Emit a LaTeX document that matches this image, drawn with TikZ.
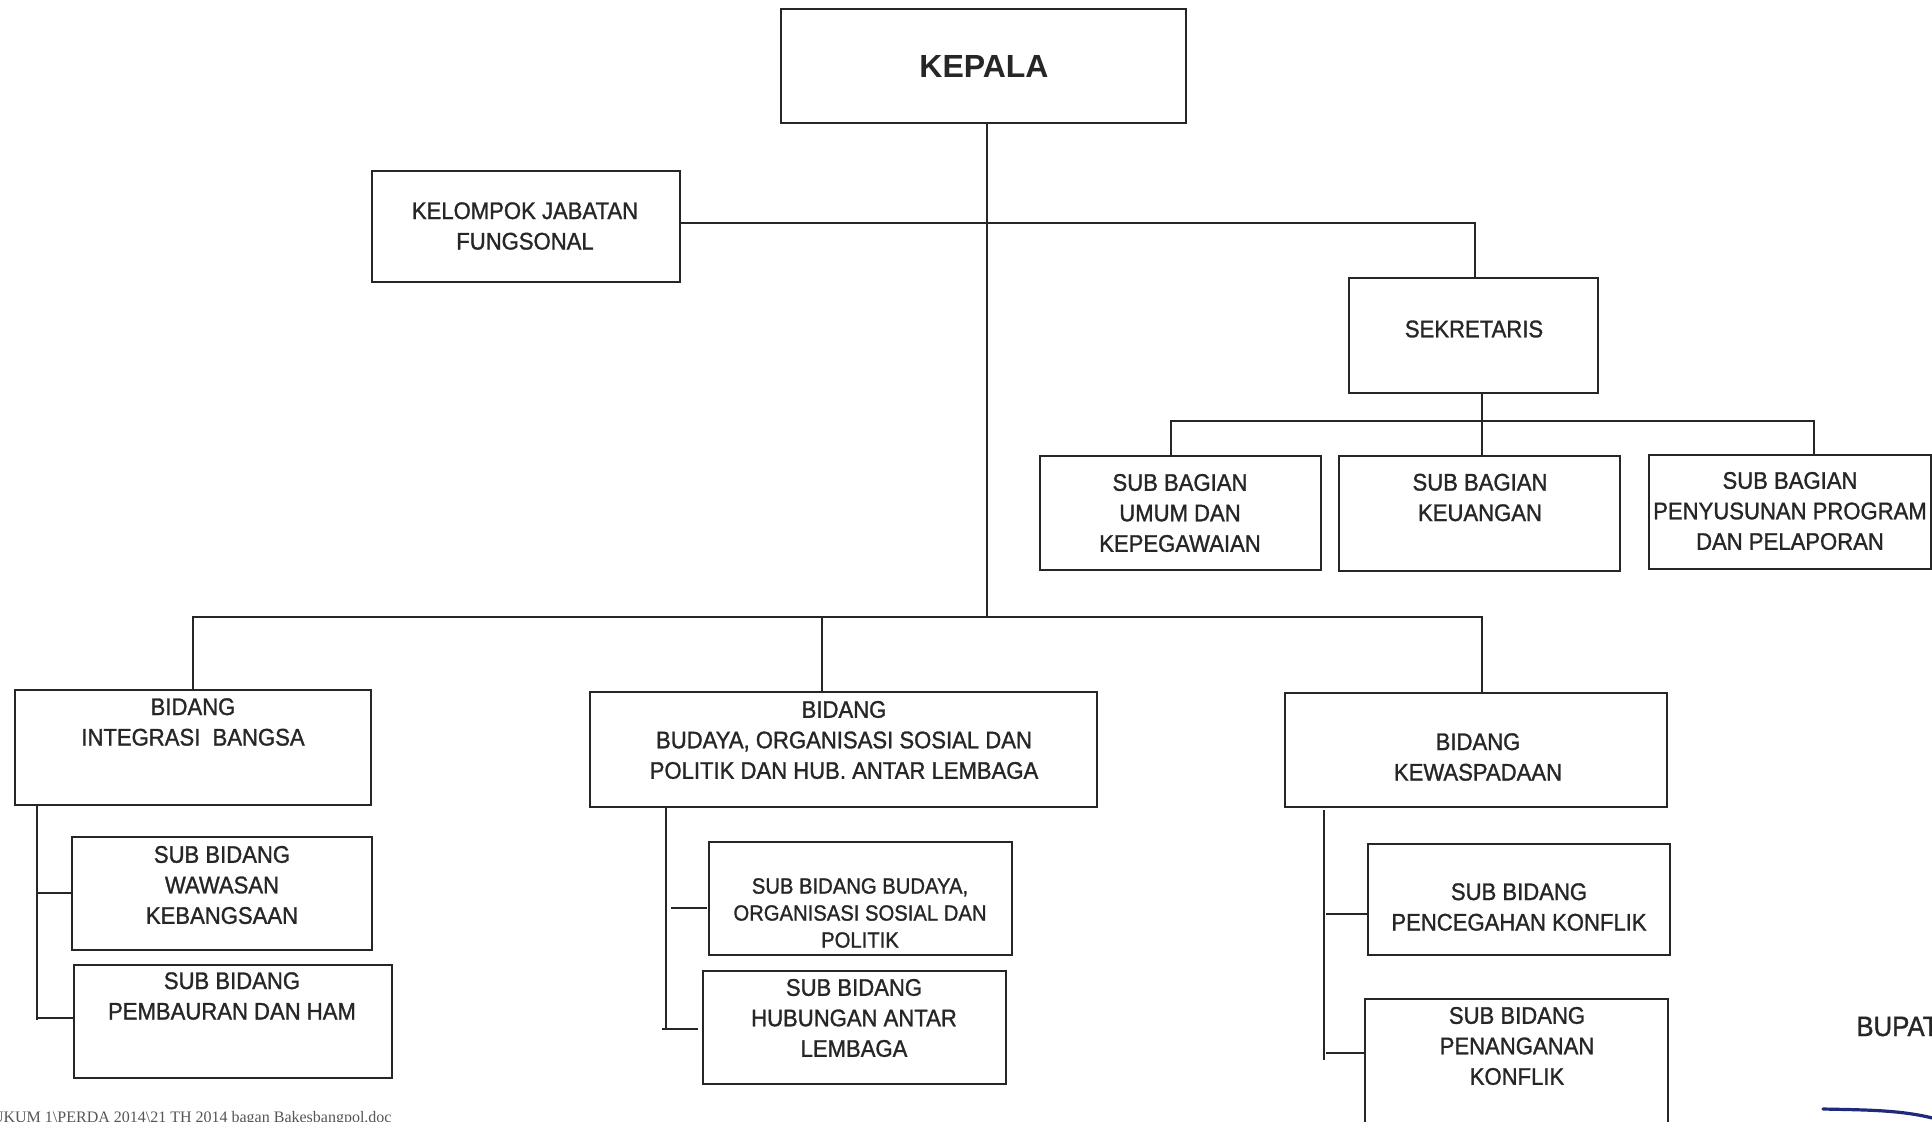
\documentclass[tikz,border=0pt]{standalone}
\usepackage{fontspec}
\setmainfont[FakeStretch=0.92, FakeBold=1.2]{Liberation Sans}
\newfontfamily\plainsans{Liberation Sans}
\newfontfamily\footserif{Liberation Serif}
\definecolor{ink}{HTML}{262626}
\definecolor{pen}{HTML}{1F2A78}
\definecolor{footgray}{HTML}{555555}
\tikzset{
  boxst/.style={draw=ink, line width=1pt, inner sep=0pt, outer sep=0pt, rectangle},
  txt/.style={align=center, inner sep=0pt, text=ink, font=\fontsize{12}{15.25}\selectfont},
  smalltxt/.style={align=center, inner sep=0pt, text=ink, font=\fontsize{11}{13.5}\selectfont},
  conn/.style={draw=ink, line width=1pt},
}
\newcommand\orgbox[5]{\node[boxst, minimum width={(#4-#2)*0.5pt}, minimum height={(#5-#3)*0.5pt}] (#1) at ({(#2+#4)/2},{(#3+#5)/2}) {};}
\begin{document}
\begin{tikzpicture}[x=0.5pt, y=-0.5pt]
\useasboundingbox (0,0) rectangle (1932,1121);
\fill[white] (0,0) rectangle (1932,1121);
\clip (0,0) rectangle (1932,1121);

% boxes
\orgbox{kepala}{781}{9}{1186}{123}
\orgbox{kel}{372}{171}{680}{282}
\orgbox{sek}{1349}{278}{1598}{393}
\orgbox{umum}{1040}{456}{1321}{570}
\orgbox{keu}{1339}{456}{1620}{571}
\orgbox{pen}{1649}{455}{1931}{569}
\orgbox{integ}{15}{690}{371}{805}
\orgbox{bud}{590}{692}{1097}{807}
\orgbox{kewas}{1285}{693}{1667}{807}
\orgbox{wawasan}{72}{837}{372}{950}
\orgbox{pembauran}{74}{965}{392}{1078}
\orgbox{subbud}{709}{842}{1012}{955}
\orgbox{hub}{703}{971}{1006}{1084}
\orgbox{cegah}{1368}{844}{1670}{955}
\orgbox{tangan}{1365}{999}{1668}{1140}

% texts
\node[txt, font=\plainsans\bfseries\fontsize{16}{19}\selectfont] (t-kepala) at (984,66.5) {KEPALA};
\node[txt] (t-kel) at (525,226) {KELOMPOK JABATAN\\FUNGSONAL};
\node[txt] (t-sek) at (1474,329) {SEKRETARIS};
\node[txt] (t-umum) at (1180,513) {SUB BAGIAN\\UMUM DAN\\KEPEGAWAIAN};
\node[txt] (t-keu) at (1480,497.5) {SUB BAGIAN\\KEUANGAN};
\node[txt] (t-pen) at (1790,511) {SUB BAGIAN\\PENYUSUNAN PROGRAM\\DAN PELAPORAN};
\node[txt] (t-integ) at (193,722) {BIDANG\\INTEGRASI\ \ BANGSA};
\node[txt] (t-bud) at (844,740) {BIDANG\\BUDAYA, ORGANISASI SOSIAL DAN\\POLITIK DAN HUB. ANTAR LEMBAGA};
\node[txt] (t-kewas) at (1478,757) {BIDANG\\KEWASPADAAN};
\node[txt] (t-wawasan) at (222,885) {SUB BIDANG\\WAWASAN\\KEBANGSAAN};
\node[txt] (t-pembauran) at (232,996) {SUB BIDANG\\PEMBAURAN DAN HAM};
\node[smalltxt] (t-subbud) at (860,913) {SUB BIDANG BUDAYA,\\ORGANISASI SOSIAL DAN\\POLITIK};
\node[txt] (t-hub) at (854,1018) {SUB BIDANG\\HUBUNGAN ANTAR\\LEMBAGA};
\node[txt] (t-cegah) at (1519,907) {SUB BIDANG\\PENCEGAHAN KONFLIK};
\node[txt] (t-tangan) at (1517,1046) {SUB BIDANG\\PENANGANAN\\KONFLIK};

% junction coordinates
\coordinate (kv) at (987,617);
\coordinate (topj) at (1475,223);
\coordinate (sb1) at (1171,421);
\coordinate (sb2) at (1482,421);
\coordinate (sb3) at (1814,421);
\coordinate (bb1) at (193,617);
\coordinate (bb2) at (822,617);
\coordinate (bb3) at (1482,617);
\coordinate (l1) at (37,1020);
\coordinate (l2) at (666,1029);
\coordinate (l3) at (1324,1060);

% connectors
\draw[conn] (kv |- kepala.south) -- (kv);
\draw[conn] (kel.east |- topj) -- (topj) -- (topj |- sek.north);
\draw[conn] (sb2 |- sek.south) -- (sb2 |- keu.north);
\draw[conn] (sb1 |- umum.north) -- (sb1) -- (sb3) -- (sb3 |- pen.north);
\draw[conn] (bb1 |- integ.north) -- (bb1) -- (bb3) -- (bb3 |- kewas.north);
\draw[conn] (bb2) -- (bb2 |- bud.north);

\draw[conn] (l1 |- integ.south) -- (l1);
\draw[conn] (37,893) -- (37,893 -| wawasan.west);
\draw[conn] (37,1018) -- (37,1018 -| pembauran.west);

\draw[conn] (l2 |- bud.south) -- (l2);
\draw[conn] (671,908) -- (707,908);
\draw[conn] (662,1029) -- (698,1029);

\draw[conn] (1324,810) -- (l3);
\draw[conn] (1326,914) -- (1326,914 -| cegah.west);
\draw[conn] (1326,1053) -- (1326,1053 -| tangan.west);

% BUPATI and signature stroke
\node[anchor=base west, inner sep=0pt, text=ink, font=\fontsize{14}{17}\selectfont] (bupati) at (1856,1036) {BUPATI};
\coordinate (sigA) at (1823,1109);
\coordinate (sigB) at (1940,1120);
\draw[pen, line width=1.6pt, line cap=round] (sigA) .. controls (1870,1110) and (1905,1110) .. (sigB);

% footer
\node[anchor=base east, inner sep=0pt, text=footgray, font=\footserif\fontsize{8}{9}\selectfont] (foot) at (392,1122) {HUKUM 1\textbackslash PERDA 2014\textbackslash 21 TH 2014 bagan Bakesbangpol.doc};
\end{tikzpicture}
\end{document}
